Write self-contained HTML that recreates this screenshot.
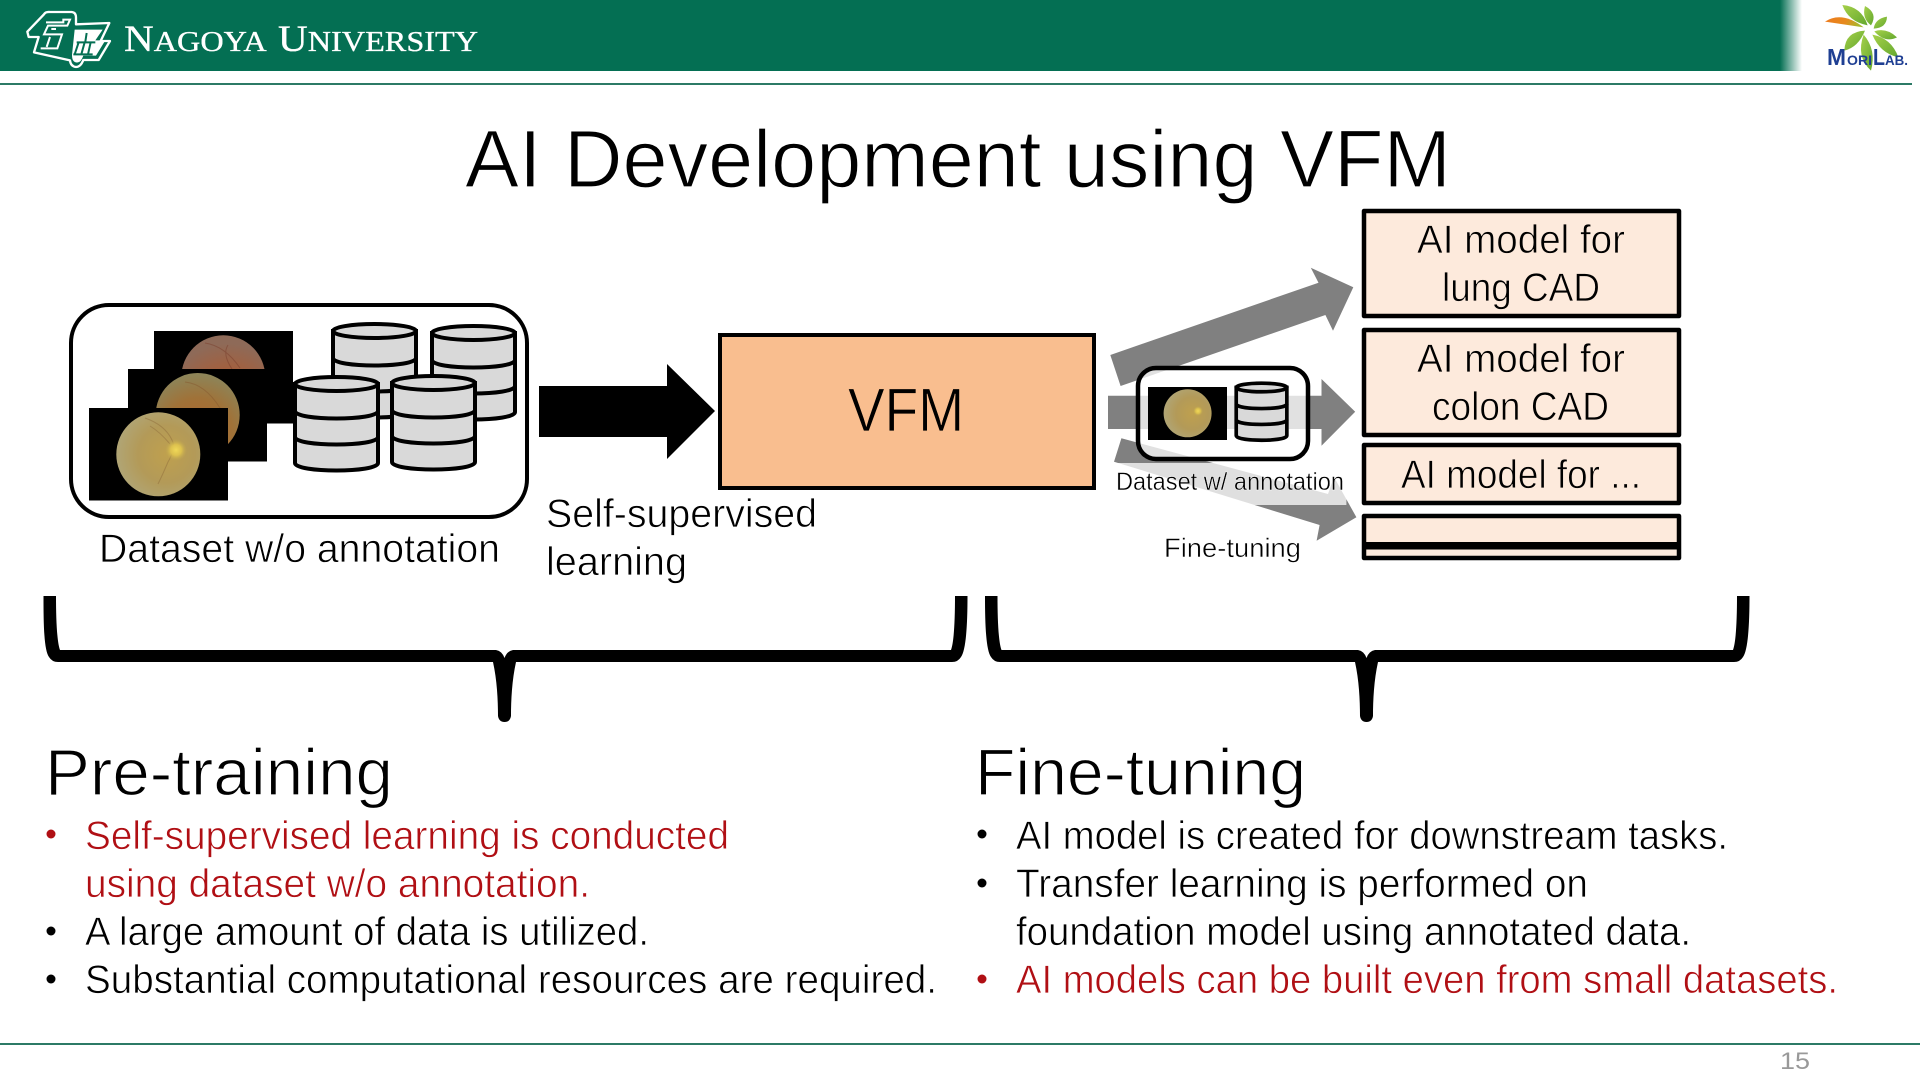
<!DOCTYPE html>
<html><head><meta charset="utf-8"><title>AI Development using VFM</title>
<style>
html,body{margin:0;padding:0;background:#fff;width:1920px;height:1080px;overflow:hidden}
svg{display:block}
text{font-family:"Liberation Sans",sans-serif;fill:#000}
.t{font-size:40px;stroke:#fff;stroke-width:.7px}
.p{font-size:40px;stroke:#fdeadc;stroke-width:.7px}
.r{fill:#b00f14}
.h{font-size:66px;stroke:#fff;stroke-width:1.2px}
</style></head><body>
<svg width="1920" height="1080" viewBox="0 0 1920 1080" xmlns="http://www.w3.org/2000/svg">
<defs>
<linearGradient id="hd" x1="0" x2="1" y1="0" y2="0"><stop offset="0" stop-color="#046f53"/><stop offset="1" stop-color="#fff"/></linearGradient>
<radialGradient id="f1" cx=".55" cy=".85" r=".75"><stop offset="0" stop-color="#c0603c"/><stop offset=".6" stop-color="#a2603f"/><stop offset="1" stop-color="#8e6a58"/></radialGradient>
<radialGradient id="f2" cx=".5" cy=".72" r=".7"><stop offset="0" stop-color="#b0642e"/><stop offset=".6" stop-color="#a07238"/><stop offset="1" stop-color="#8d8458"/></radialGradient>
<radialGradient id="f3" cx=".6" cy=".5" r=".62"><stop offset="0" stop-color="#bfa04e"/><stop offset=".55" stop-color="#b39a58"/><stop offset="1" stop-color="#b0a678"/></radialGradient>
<radialGradient id="sp"><stop offset="0" stop-color="#f0d858"/><stop offset=".5" stop-color="#dcc04e"/><stop offset="1" stop-color="#c0a850" stop-opacity="0"/></radialGradient>
<linearGradient id="og" x1="0" x2="1" y1="0" y2=".2"><stop offset="0" stop-color="#ee7a1e"/><stop offset=".6" stop-color="#e68a1e"/><stop offset="1" stop-color="#a8b82c"/></linearGradient>
<linearGradient id="gr" x1="0" x2="1" y1="0" y2="1"><stop offset="0" stop-color="#a6d04a"/><stop offset="1" stop-color="#63a82e"/></linearGradient>
<g id="cyl">
<path d="M2,9 V88 C2,98 85,98 85,88 V9 Z" fill="#d9d9d9" stroke="#000" stroke-width="4"/>
<ellipse cx="43.5" cy="9" rx="41.5" ry="7" fill="#d9d9d9" stroke="#000" stroke-width="4"/>
<path d="M2,36 C2,46 85,46 85,36 M2,62 C2,72 85,72 85,62" fill="none" stroke="#000" stroke-width="4"/>
</g>
</defs>

<!-- header -->
<rect x="0" y="0" width="1780" height="71" fill="#046f53"/>
<rect x="1780" y="0" width="22" height="71" fill="url(#hd)"/>
<rect x="0" y="83" width="1912" height="2" fill="#2c7a66"/>

<!-- Nagoya emblem -->
<g transform="translate(20,5) scale(.3333)">
<path d="M22,80 L72,28 Q76,20 90,21 H155 Q168,22 168,38 V58 L268,54 L242,108 H270 L236,165 H190 Q182,186 168,186 Q152,184 150,166 L42,142 L56,96 H26 Z" fill="none" stroke="#fff" stroke-width="7" stroke-linejoin="round"/>
<path d="M78,52 H130 V44 H150 L142,62 H84 L72,88 H126 L112,130 H62 M90,96 L80,126 M108,72 H94" fill="none" stroke="#fff" stroke-width="6"/>
<path d="M164,74 H248 L226,106 H256 L228,152 H190 Q182,176 168,172 Q156,170 156,150 Z" fill="#fff"/>
<path d="M170,112 H226 M176,112 L164,148 M194,112 L184,148 M212,112 L204,148 M160,148 H218 M200,84 L196,110" fill="none" stroke="#046f53" stroke-width="6"/>
</g>
<text x="124" y="51" textLength="354" lengthAdjust="spacingAndGlyphs" style="font-family:'Liberation Serif',serif;font-variant:small-caps;fill:#fff;stroke:#fff;stroke-width:.35px"><tspan style="font-size:37px">N</tspan><tspan style="font-size:41px">agoya </tspan><tspan style="font-size:37px">U</tspan><tspan style="font-size:41px">niversity</tspan></text>

<!-- MoriLab logo -->
<g transform="translate(1815,0) scale(.3333)">
<path d="M30,65 Q80,32 146,82 Q90,74 30,65Z" fill="url(#og)"/>
<g fill="url(#gr)">
<path d="M82,15 Q140,20 158,76 Q100,65 82,15Z"/>
<path d="M150,18 Q190,40 168,76 Q140,55 150,18Z"/>
<path d="M216,50 Q215,84 176,86 Q180,56 216,50Z"/>
<path d="M246,112 Q210,130 178,94 Q214,82 246,112Z"/>
<path d="M250,172 Q195,160 172,104 Q230,115 250,172Z"/>
<path d="M168,212 Q122,170 146,104 Q185,150 168,212Z"/>
<path d="M88,152 Q90,95 150,92 Q130,142 88,152Z"/>
</g>
</g>
<text x="1827" y="65" textLength="19" lengthAdjust="spacingAndGlyphs" style="font-weight:bold;font-size:23px;fill:#1f3f93">M</text>
<text x="1847" y="65" textLength="25" lengthAdjust="spacingAndGlyphs" style="font-weight:bold;font-size:14px;fill:#1f3f93">ORI</text>
<text x="1873" y="65" textLength="12" lengthAdjust="spacingAndGlyphs" style="font-weight:bold;font-size:23px;fill:#1f3f93">L</text>
<text x="1885" y="65" textLength="23" lengthAdjust="spacingAndGlyphs" style="font-weight:bold;font-size:14px;fill:#1f3f93">AB.</text>

<!-- title -->
<text x="465" y="187" textLength="986" lengthAdjust="spacingAndGlyphs" style="font-size:82px;stroke:#fff;stroke-width:1.2px">AI Development using VFM</text>

<!-- dataset box -->
<rect x="71" y="305" width="456" height="212" rx="38" fill="#fff" stroke="#000" stroke-width="4"/>
<rect x="154" y="331" width="139" height="92.5" fill="#000"/>
<circle cx="223.3" cy="377.3" r="42" fill="url(#f1)"/>
<path d="M205,343 Q225,346 240,368 M228,345 Q222,354 232,369" fill="none" stroke="#7a3d2c" stroke-width="1" stroke-opacity=".5"/>
<rect x="128" y="369" width="139" height="92.5" fill="#000"/>
<circle cx="197.7" cy="415" r="42" fill="url(#f2)"/>
<path d="M185,382 Q205,384 220,408 Q228,420 226,436" fill="none" stroke="#85582e" stroke-width="1" stroke-opacity=".5"/>
<rect x="89" y="408" width="139" height="92.5" fill="#000"/>
<circle cx="158.3" cy="454.3" r="42" fill="url(#f3)"/>
<path d="M145,418 Q165,425 172,440 Q176,448 168,462 Q162,476 158,484 M150,426 Q160,432 170,444" fill="none" stroke="#8f6e3c" stroke-width="1" stroke-opacity=".5"/>
<circle cx="176" cy="450" r="11" fill="url(#sp)"/>
<use href="#cyl" x="331" y="322"/>
<use href="#cyl" x="430" y="324"/>
<use href="#cyl" x="293" y="375"/>
<use href="#cyl" x="390" y="374"/>
<text class="t" x="99" y="562" textLength="401" lengthAdjust="spacingAndGlyphs">Dataset w/o annotation</text>

<!-- black arrow -->
<path d="M539,386 H667 V364 L715,411 L667,459 V437 H539 Z" fill="#000"/>
<text class="t" x="546" y="527" textLength="271" lengthAdjust="spacingAndGlyphs">Self-supervised</text>
<text class="t" x="546" y="575" textLength="141" lengthAdjust="spacingAndGlyphs">learning</text>

<!-- VFM -->
<rect x="720" y="335" width="374" height="153" fill="#f9be8f" stroke="#000" stroke-width="4"/>
<text x="848" y="431" textLength="116" lengthAdjust="spacingAndGlyphs" style="font-size:61px;stroke:#f9be8f;stroke-width:.7px">VFM</text>

<!-- gray arrows -->
<g fill="#808080">
<path d="M1110.3,355 L1318.5,282.7 L1310.8,267.7 L1353.3,287.3 L1333,330.7 L1325.4,315 L1120.6,386 Z"/>
<path d="M1108,395.7 H1321.5 V379 L1355.2,411.7 L1321.5,445.7 V429 H1108 Z"/>
<path d="M1121.4,438.3 L1328,494 L1334,477 L1356.4,517.3 L1316.6,540.7 L1319.6,525 L1114,461.7 Z"/>
</g>
<rect x="1115" y="463" width="231.4" height="42" fill="#fff" fill-opacity=".75"/>

<!-- small dataset -->
<rect x="1138" y="368" width="170" height="91" rx="18" fill="#fff" fill-opacity=".76" stroke="#000" stroke-width="4.5"/>
<rect x="1148" y="387" width="79" height="53" fill="#000"/>
<circle cx="1187.6" cy="413.3" r="24" fill="url(#f3)"/>
<circle cx="1198" cy="411" r="5" fill="url(#sp)"/>
<g transform="translate(1235,382) scale(.61,.61)"><path d="M2,9 V88 C2,98 85,98 85,88 V9 Z" fill="#d9d9d9" stroke="#000" stroke-width="6"/><ellipse cx="43.5" cy="9" rx="41.5" ry="7" fill="#d9d9d9" stroke="#000" stroke-width="6"/><path d="M2,36 C2,46 85,46 85,36 M2,62 C2,72 85,72 85,62" fill="none" stroke="#000" stroke-width="6"/></g>
<text x="1116" y="490" textLength="228" lengthAdjust="spacingAndGlyphs" style="font-size:25px;stroke:#fff;stroke-width:.4px">Dataset w/ annotation</text>
<text x="1164" y="557" textLength="137" lengthAdjust="spacingAndGlyphs" style="font-size:27px;stroke:#fff;stroke-width:.5px">Fine-tuning</text>

<!-- model boxes -->
<g fill="#fdeadc" stroke="#000" stroke-width="4.5" stroke-linejoin="round">
<rect x="1364" y="211" width="315" height="105"/>
<rect x="1364" y="330" width="315" height="105"/>
<rect x="1364" y="445" width="315" height="58"/>
<rect x="1364" y="516" width="315" height="42"/>
</g>
<rect x="1362" y="542" width="319" height="7.5" fill="#000"/>
<text class="p" x="1417" y="253" textLength="208" lengthAdjust="spacingAndGlyphs">AI model for</text>
<text class="p" x="1442" y="301" textLength="158" lengthAdjust="spacingAndGlyphs">lung CAD</text>
<text class="p" x="1417" y="372" textLength="208" lengthAdjust="spacingAndGlyphs">AI model for</text>
<text class="p" x="1432" y="420" textLength="177" lengthAdjust="spacingAndGlyphs">colon CAD</text>
<text class="p" x="1401" y="488" textLength="240" lengthAdjust="spacingAndGlyphs">AI model for ...</text>

<!-- braces -->
<path fill="#000" d="M43.5,596 H56 C56,620 57,642 60,650 H496 Q502,651 504.5,658 Q507,651 513,650 H951 C954,642 955,620 955,596 H967.5 C967.5,625 966,650 961,657 Q958,662 952,662 H516 C512,680 511,700 511,716 Q510,722 504.5,722 Q499,722 498,716 C498,700 497,680 493,662 H58 Q52,662 49,657 C44,650 43.5,625 43.5,596 Z"/>
<path fill="#000" d="M985,596 H997.5 C997.5,620 998.5,642 1001.5,650 H1358 Q1364,651 1366.5,658 Q1369,651 1375,650 H1733 C1736,642 1737,620 1737,596 H1749.5 C1749.5,625 1748,650 1743,657 Q1740,662 1734,662 H1378 C1374,680 1373,700 1373,716 Q1372,722 1366.5,722 Q1361,722 1360,716 C1360,700 1359,680 1355,662 H1000 Q994,662 991,657 C986,650 985,625 985,596 Z"/>

<!-- left text -->
<text class="h" x="45" y="795" textLength="348" lengthAdjust="spacingAndGlyphs">Pre-training</text>
<circle cx="51" cy="834" r="4.5" fill="#b00f14"/>
<circle cx="51" cy="931" r="4.5" fill="#000"/>
<circle cx="51" cy="979" r="4.5" fill="#000"/>
<text class="t r" x="85" y="849" textLength="644" lengthAdjust="spacingAndGlyphs">Self-supervised learning is conducted</text>
<text class="t r" x="85" y="897" textLength="505" lengthAdjust="spacingAndGlyphs">using dataset w/o annotation.</text>
<text class="t" x="85" y="945" textLength="564" lengthAdjust="spacingAndGlyphs">A large amount of data is utilized.</text>
<text class="t" x="85" y="993" textLength="852" lengthAdjust="spacingAndGlyphs">Substantial computational resources are required.</text>

<!-- right text -->
<text class="h" x="975" y="795" textLength="331" lengthAdjust="spacingAndGlyphs">Fine-tuning</text>
<circle cx="982" cy="834" r="4.5" fill="#000"/>
<circle cx="982" cy="883" r="4.5" fill="#000"/>
<circle cx="982" cy="979" r="4.5" fill="#b00f14"/>
<text class="t" x="1016" y="849" textLength="712" lengthAdjust="spacingAndGlyphs">AI model is created for downstream tasks.</text>
<text class="t" x="1016" y="897" textLength="572" lengthAdjust="spacingAndGlyphs">Transfer learning is performed on</text>
<text class="t" x="1016" y="945" textLength="675" lengthAdjust="spacingAndGlyphs">foundation model using annotated data.</text>
<text class="t r" x="1016" y="993" textLength="822" lengthAdjust="spacingAndGlyphs">AI models can be built even from small datasets.</text>

<!-- footer -->
<rect x="0" y="1043" width="1920" height="2" fill="#2c7a66"/>
<text x="1780" y="1069" textLength="30" lengthAdjust="spacingAndGlyphs" style="font-size:24px;fill:#999">15</text>
</svg>
</body></html>
